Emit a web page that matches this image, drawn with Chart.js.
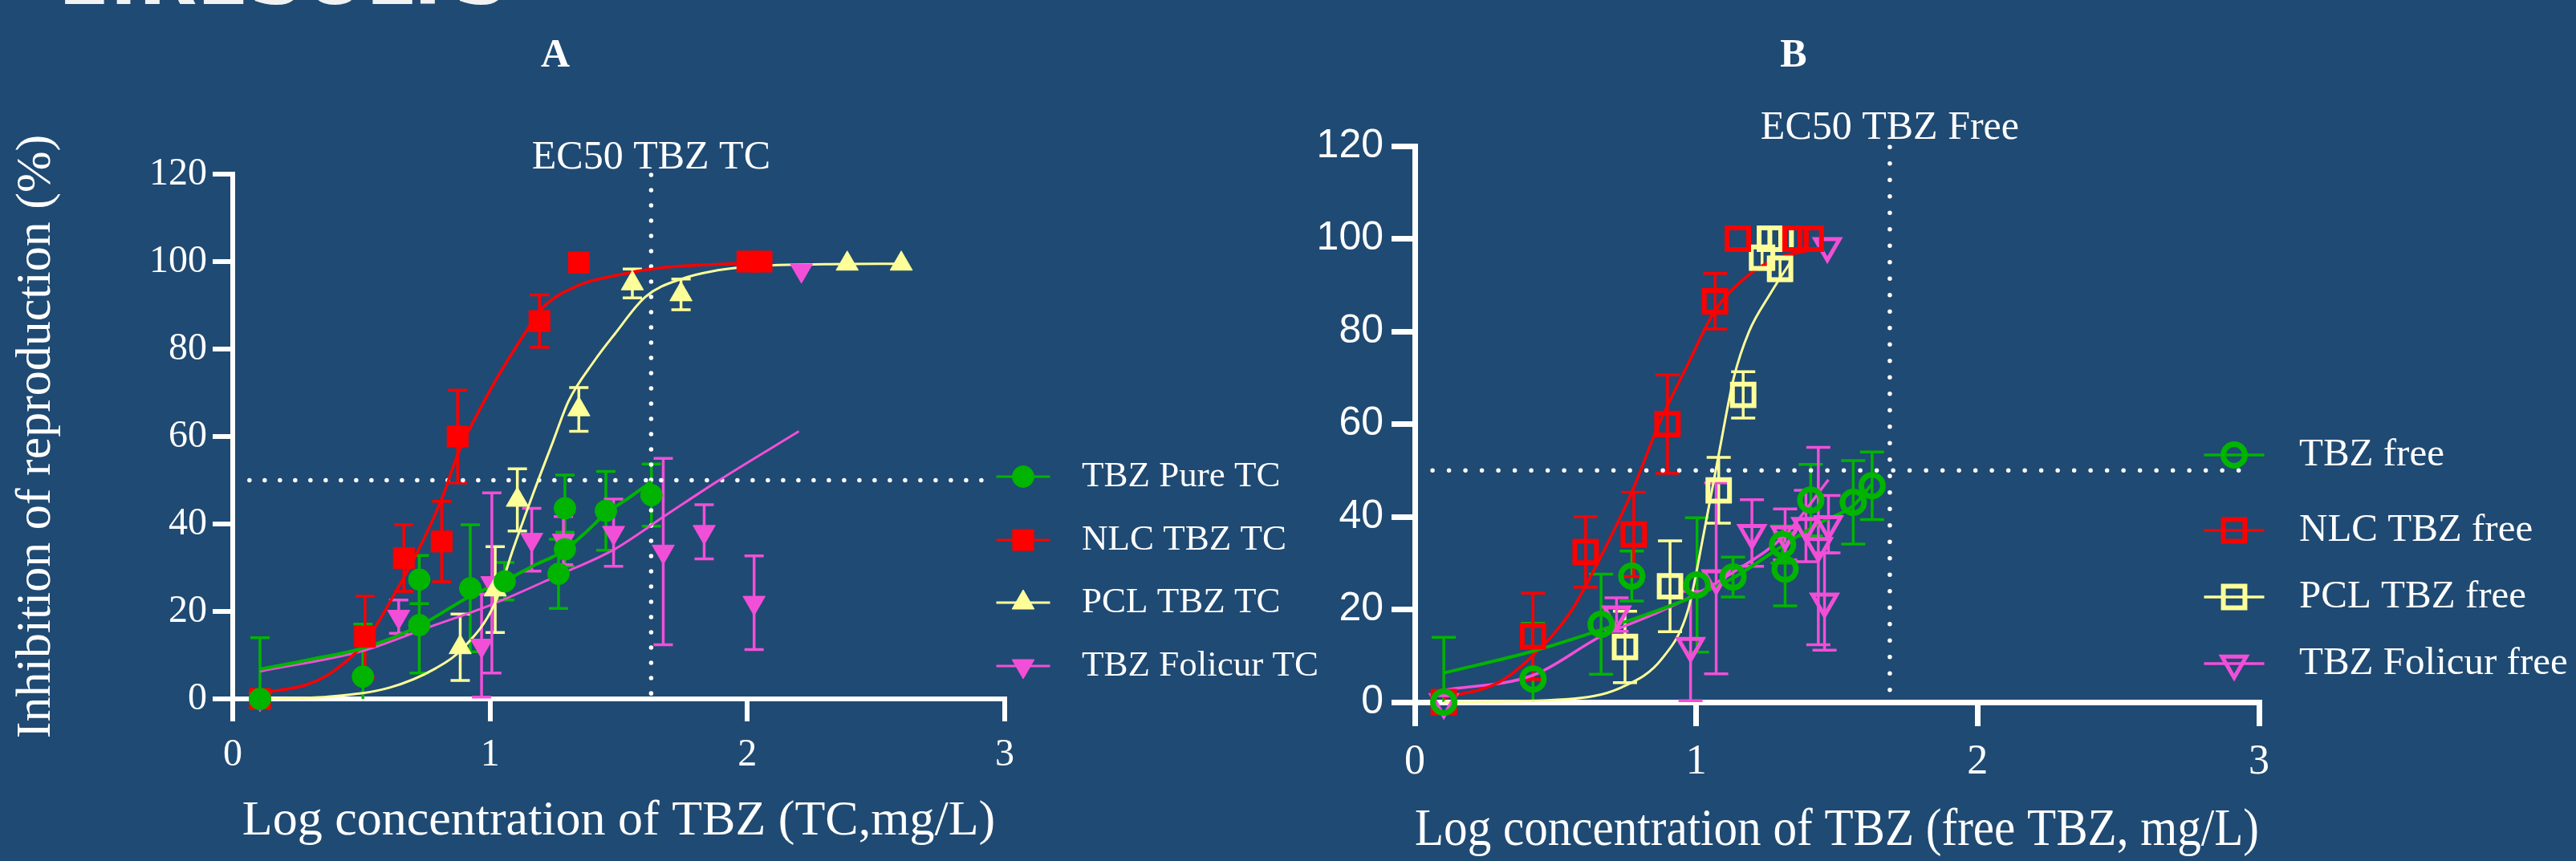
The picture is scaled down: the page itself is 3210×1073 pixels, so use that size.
<!DOCTYPE html>
<html><head><meta charset="utf-8">
<script src="https://cdn.jsdelivr.net/npm/chart.js@4.4.1/dist/chart.umd.min.js"></script>
<style>
html,body{margin:0;padding:0;background:#1f4a73;width:3210px;height:1073px;overflow:hidden;}
#wrap{position:relative;width:3210px;height:1073px;}
canvas{position:absolute;top:0;}
#cA{left:0;} #cB{left:1600px;}
.lbl{position:absolute;color:#fff;font-family:"Liberation Serif",serif;white-space:nowrap;line-height:1;}
#top{left:70px;top:-75px;font-family:"DejaVu Sans",sans-serif;font-weight:bold;font-size:95px;color:#f2f2f2;}
#tA,#tB{top:41px;font-size:50px;font-weight:bold;transform:translateX(-50%);}
#tA{left:692px;} #tB{left:2235px;}
</style></head><body>
<div id="wrap">
<div class="lbl" id="top">1.RESULTS</div>
<canvas id="cA" width="1700" height="1073"></canvas>
<canvas id="cB" width="1610" height="1073"></canvas>
<div class="lbl" id="tA">A</div>
<div class="lbl" id="tB">B</div>
</div>
<script>
// ---------- tick values ----------
const X_TICKS = [0, 1, 2, 3];
const Y_TICKS = [0, 20, 40, 60, 80, 100, 120];

// ---------- Panel A (TC) ----------
const A_PURE_X  = [0.106, 0.506, 0.725, 0.725, 0.923, 1.057, 1.266, 1.291, 1.291, 1.45, 1.627];
const A_PURE_Y  = [0, 5.1, 27.3, 16.9, 25.3, 26.9, 28.6, 34.2, 43.6, 43, 46.6];
const A_PURE_SD = [14, 12, 5.5, 11, 14.5, 4.3, 7.9, 3.9, 7.6, 9, 7.1];

const A_NLC_X  = [0.106, 0.514, 0.665, 0.812, 0.874, 1.192, 1.345, 2.0, 2.055];
const A_NLC_Y  = [0, 14.2, 32.2, 36, 60, 86.4, 99.8, 100, 100];
const A_NLC_SD = [0, 9.3, 7.6, 9.2, 10.6, 6, 0, 0, 0];

const A_PCL_X  = [0.884, 1.02, 1.106, 1.345, 1.553, 1.742, 2.388, 2.598];
const A_PCL_Y  = [11.8, 25, 45.5, 66.2, 95, 92.5, 99.5, 99.5];
const A_PCL_SD = [7.6, 9.8, 7.1, 5, 3.3, 3.5, 0, 0];

const A_FOL_X  = [0.106, 0.645, 0.967, 1.007, 1.162, 1.285, 1.48, 1.673, 1.832, 2.026, 2.21];
const A_FOL_Y  = [0, 18.8, 12.2, 26.5, 36.4, 36.2, 38, 33.7, 38.2, 22, 98];
const A_FOL_SD = [0, 3.8, 11.8, 20.6, 7.2, 5.5, 7.7, 21.3, 6.2, 10.7, 0];

// fitted curves, panel A
const A_PURE_FIT_X = [0.106, 0.3, 0.506, 0.725, 0.923, 1.057, 1.17, 1.285, 1.37, 1.45, 1.54, 1.627];
const A_PURE_FIT_Y = [6.8, 9, 11.6, 16.7, 23.5, 27, 30.5, 33.8, 38, 42.4, 46, 49.7];
const A_NLC_FIT_X = [0.106, 0.29, 0.391, 0.514, 0.629, 0.713, 0.812, 0.874, 1.006, 1.146, 1.205, 1.345, 1.484, 1.683, 1.96, 2.06];
const A_NLC_FIT_Y = [1.4, 3.3, 6.3, 13, 24, 33, 45.7, 55.8, 71.2, 84.6, 89.5, 94.6, 96.8, 98.7, 99.6, 100];
const A_PCL_FIT_X = [0.106, 0.371, 0.61, 0.789, 0.888, 1.02, 1.087, 1.166, 1.245, 1.305, 1.404, 1.484, 1.603, 1.742, 1.98, 2.3, 2.6];
const A_PCL_FIT_Y = [0, 0.5, 2.6, 7, 11.2, 22, 33.8, 46.7, 58.9, 68.1, 77.2, 83.4, 91.9, 96, 98.7, 99.4, 99.5];
const A_FOL_FIT_X = [0.106, 0.506, 0.748, 1.007, 1.266, 1.48, 1.683, 1.882, 2.2];
const A_FOL_FIT_Y = [6.3, 11, 16.1, 21.6, 28.3, 34.1, 42, 49.7, 61.2];

const A_EC50 = 1.626;

// ---------- Panel B (free TBZ) ----------
const B_PURE_X  = [0.103, 0.42, 0.662, 0.771, 1.003, 1.131, 1.316, 1.307, 1.407, 1.558, 1.625];
const B_PURE_Y  = [0, 5, 16.8, 27.2, 25.3, 27, 28.7, 34, 43.6, 43.1, 46.7];
const B_PURE_SD = [14, 12, 10.8, 5.4, 14.5, 4.3, 7.9, 4, 7.7, 9, 7.3];

const B_NLC_X  = [0.103, 0.42, 0.607, 0.778, 0.898, 1.067, 1.148, 1.353, 1.407];
const B_NLC_Y  = [0, 14.2, 32.4, 36.2, 60, 86.5, 100, 100, 100];
const B_NLC_SD = [0, 9.3, 7.6, 9.1, 10.6, 6, 0, 0, 0];

const B_PCL_X  = [0.747, 0.907, 1.08, 1.167, 1.234, 1.298, 1.262, 1.3];
const B_PCL_Y  = [11.9, 25, 45.7, 66.3, 95.9, 93.5, 100, 100];
const B_PCL_SD = [7.7, 9.8, 7.1, 5, 2.5, 2.5, 0, 0];

const B_FOL_X  = [0.103, 0.717, 0.98, 1.071, 1.198, 1.316, 1.39, 1.434, 1.47, 1.456, 1.466];
const B_FOL_Y  = [0, 18.9, 12.1, 26.7, 36.5, 36.2, 38, 33.7, 38.4, 21.7, 98.4];
const B_FOL_SD = [0, 3.6, 11.8, 20.6, 7.2, 5.5, 7.7, 21.3, 6.2, 10.5, 0];

const B_PURE_FIT_X = [0.103, 0.42, 0.662, 0.85, 1.003, 1.131, 1.316, 1.45, 1.558, 1.625];
const B_PURE_FIT_Y = [6.3, 11, 15.6, 19.5, 23.1, 26.8, 34.1, 39, 42.4, 47.1];
const B_NLC_FIT_X = [0.103, 0.299, 0.42, 0.553, 0.662, 0.771, 0.862, 0.971, 1.067, 1.171, 1.279, 1.386, 1.41];
const B_NLC_FIT_Y = [0.9, 4.3, 10.1, 19.4, 31.5, 45.3, 59.2, 73, 84.5, 91.4, 95.6, 97.3, 97.6];
const B_PCL_FIT_X = [0.103, 0.535, 0.735, 0.88, 0.971, 1.026, 1.08, 1.134, 1.188, 1.262, 1.334];
const B_PCL_FIT_Y = [0, 0.6, 3.2, 9.5, 19.9, 36.1, 53.4, 70.1, 80, 88, 94.9];
const B_FOL_FIT_X = [0.103, 0.42, 0.662, 0.85, 1.003, 1.131, 1.316, 1.47];
const B_FOL_FIT_Y = [2.6, 5.8, 14.2, 19, 23.4, 28, 36.1, 48];

const B_EC50 = 1.688;

const LABELS_A = ['TBZ Pure TC', 'NLC TBZ TC', 'PCL TBZ TC', 'TBZ Folicur TC'];
const LABELS_B = ['TBZ free', 'NLC TBZ free', 'PCL TBZ free', 'TBZ Folicur free'];

const COL = {green:'#00b400', red:'#ff0000', yellow:'#ffff99', pink:'#f24fd8'};
const SERIF = '"Liberation Serif", "Times New Roman", serif';

Chart.defaults.color = '#fff';
Chart.defaults.font.family = SERIF;

function pts(xs, ys){ return xs.map((x,i)=>({x:x, y:ys[i]})); }

function pointDS(label, xs, ys, sd, color, m){
  return {type:'scatter', label:label, data:pts(xs,ys), errors:sd, order:1, clip:false, showLine:false,
    pointStyle:m.style, pointRadius:m.r, pointHoverRadius:m.r, pointRotation:m.rot||0,
    pointBackgroundColor: m.open ? 'rgba(0,0,0,0)' : color, pointBorderColor:color, pointBorderWidth:m.bw,
    borderColor:color, backgroundColor:color, capWidth:m.cap, errWidth:m.ew, isSeries:true, mk:m};
}
function fitDS(xs, ys, color, w){
  return {type:'scatter', label:'', data:pts(xs,ys), showLine:true, pointRadius:0, pointHoverRadius:0,
    borderColor:color, borderWidth:w, cubicInterpolationMode:'monotone', order:2, clip:false, isFit:true};
}

function markerPath(ctx, style, r, rot, x, y){
  ctx.beginPath();
  if (style === 'circle') { ctx.arc(x, y, r, 0, Math.PI*2); }
  else if (style === 'rect') { const s = r*Math.SQRT1_2; ctx.rect(x-s, y-s, 2*s, 2*s); }
  else {
    let a = rot*Math.PI/180;
    ctx.moveTo(x + Math.sin(a)*r, y - Math.cos(a)*r);
    a += 2*Math.PI/3; ctx.lineTo(x + Math.sin(a)*r, y - Math.cos(a)*r);
    a += 2*Math.PI/3; ctx.lineTo(x + Math.sin(a)*r, y - Math.cos(a)*r);
    ctx.closePath();
  }
}

const errorBarPlugin = {
  id:'errbars',
  beforeDatasetsDraw(chart){
    const ctx = chart.ctx, xS = chart.scales.x, yS = chart.scales.y;
    chart.data.datasets.forEach(ds => {
      if (!ds.errors) return;
      ctx.save();
      ctx.strokeStyle = ds.borderColor; ctx.lineWidth = ds.errWidth; ctx.lineCap = 'butt';
      ds.data.forEach((p, j) => {
        const e = ds.errors[j]; if (!e) return;
        const px = xS.getPixelForValue(p.x);
        const hi = yS.getPixelForValue(p.y + e);
        const loV = p.y - e, lo = yS.getPixelForValue(Math.max(0, loV));
        const c = ds.capWidth/2;
        ctx.beginPath(); ctx.moveTo(px, hi); ctx.lineTo(px, lo);
        ctx.moveTo(px-c, hi); ctx.lineTo(px+c, hi);
        if (loV >= 0) { ctx.moveTo(px-c, lo); ctx.lineTo(px+c, lo); }
        ctx.stroke();
      });
      ctx.restore();
    });
  }
};

const refPlugin = {
  id:'reflines',
  beforeDatasetsDraw(chart, args, o){
    const ctx = chart.ctx, xS = chart.scales.x, yS = chart.scales.y;
    ctx.save();
    ctx.strokeStyle = '#fff'; ctx.lineWidth = o.dot; ctx.lineCap = 'round'; ctx.setLineDash([0.001, o.gap]);
    const vx = xS.getPixelForValue(o.ec50);
    ctx.beginPath(); ctx.moveTo(vx, yS.getPixelForValue(o.vTop)); ctx.lineTo(vx, yS.getPixelForValue(o.vBottom)); ctx.stroke();
    const hy = yS.getPixelForValue(o.level);
    ctx.beginPath(); ctx.moveTo(xS.getPixelForValue(o.hStart), hy); ctx.lineTo(xS.getPixelForValue(o.hEnd), hy); ctx.stroke();
    ctx.setLineDash([]);
    ctx.fillStyle = '#fff'; ctx.font = o.font; ctx.textAlign = 'center'; ctx.textBaseline = 'alphabetic';
    ctx.fillText(o.label, vx, chart.chartArea.top - o.labelGap);
    ctx.restore();
  }
};

const legendPlugin = {
  id:'seriesLegend',
  afterDraw(chart, args, o){
    const ctx = chart.ctx;
    const items = chart.data.datasets.filter(d => d.isSeries);
    items.forEach((ds, i) => {
      const yy = o.rows[i];
      ctx.save();
      ctx.strokeStyle = ds.borderColor; ctx.lineWidth = o.lineWidth;
      ctx.beginPath(); ctx.moveTo(o.x - o.half, yy); ctx.lineTo(o.x + o.half, yy); ctx.stroke();
      const m = ds.mk;
      markerPath(ctx, m.style, m.r, m.rot||0, o.x, yy);
      if (!m.open) { ctx.fillStyle = ds.borderColor; ctx.fill(); }
      if (m.bw) { ctx.lineWidth = m.bw; ctx.strokeStyle = ds.borderColor; ctx.stroke(); }
      ctx.fillStyle = '#fff'; ctx.font = o.font; ctx.textAlign = 'left'; ctx.textBaseline = 'middle';
      ctx.fillText(ds.label, o.textX, yy);
      ctx.restore();
    });
  }
};

function axisX(opts){
  return {type:'linear', min:0, max:3,
    afterBuildTicks: s => { s.ticks = X_TICKS.map(v => ({value:v})); },
    afterFit: s => { s.height = opts.h; },
    grid:{drawOnChartArea:false, drawTicks:true, tickLength:opts.tl, tickWidth:opts.lw, tickColor:'#fff', color:'#fff', lineWidth:opts.lw},
    border:{display:true, color:'#fff', width:opts.lw},
    ticks:{color:'#fff', padding:opts.tp, maxRotation:0, autoSkip:false, font:{family:SERIF, size:opts.fs}},
    title:{display:true, text:opts.title, color:'#fff', font:{family:SERIF, size:opts.ts, lineHeight:opts.tlh}, padding:{top:0, bottom:opts.tpb}}
  };
}
function axisY(opts){
  const a = {type:'linear', min:0, max:120,
    afterBuildTicks: s => { s.ticks = Y_TICKS.map(v => ({value:v})); },
    afterFit: s => { s.width = opts.w; },
    grid:{drawOnChartArea:false, drawTicks:true, tickLength:opts.tl, tickWidth:opts.lw, tickColor:'#fff', color:'#fff', lineWidth:opts.lw},
    border:{display:true, color:'#fff', width:opts.lw},
    ticks:{color:'#fff', padding:opts.tp, font:{family:opts.ff, size:opts.fs}},
    title:{display:!!opts.title, text:opts.title||'', color:'#fff', font:{family:SERIF, size:62}, padding:{top:9, bottom:0}}
  };
  return a;
}

// ---------- Chart A ----------
const mA = {
  circ:{style:'circle', r:13.5, bw:1, cap:24, ew:3.5},
  sq:{style:'rect', r:18.5, bw:1, cap:24, ew:3.5},
  tri:{style:'triangle', r:16, bw:1, cap:24, ew:3.5},
  dtri:{style:'triangle', r:16, rot:180, bw:1, cap:24, ew:3.5}
};
new Chart(document.getElementById('cA'), {
  type:'scatter',
  data:{datasets:[
    pointDS(LABELS_A[0], A_PURE_X, A_PURE_Y, A_PURE_SD, COL.green, mA.circ),
    pointDS(LABELS_A[1], A_NLC_X, A_NLC_Y, A_NLC_SD, COL.red, mA.sq),
    pointDS(LABELS_A[2], A_PCL_X, A_PCL_Y, A_PCL_SD, COL.yellow, mA.tri),
    pointDS(LABELS_A[3], A_FOL_X, A_FOL_Y, A_FOL_SD, COL.pink, mA.dtri),
    fitDS(A_PURE_FIT_X, A_PURE_FIT_Y, COL.green, 4),
    fitDS(A_NLC_FIT_X, A_NLC_FIT_Y, COL.red, 3.5),
    fitDS(A_PCL_FIT_X, A_PCL_FIT_Y, COL.yellow, 3),
    fitDS(A_FOL_FIT_X, A_FOL_FIT_Y, COL.pink, 3)
  ]},
  options:{
    responsive:false, animation:false, devicePixelRatio:1, events:[],
    layout:{padding:{top:217, right:448, left:0, bottom:0}},
    scales:{
      x: axisX({h:202, tl:28, lw:6, tp:14, fs:48, title:'Log concentration of TBZ (TC,mg/L)', ts:62, tlh:1.2, tpb:12}),
      y: axisY({w:290, tl:25, lw:6, tp:7, fs:48, ff:SERIF, title:'Inhibition of reproduction (%)'})
    },
    plugins:{
      legend:{display:false}, tooltip:{enabled:false},
      reflines:{ec50:A_EC50, level:50, vTop:119.8, vBottom:1.1, hStart:0.065, hEnd:2.94, dot:5.5, gap:19,
        label:'EC50 TBZ TC', font:'50px '+SERIF, labelGap:7},
      seriesLegend:{x:1275, half:33.5, rows:[594, 673, 751, 830], textX:1348, lineWidth:3, font:'45px '+SERIF}
    }
  },
  plugins:[errorBarPlugin, refPlugin, legendPlugin]
});

// ---------- Chart B ----------
const mB = {
  circ:{style:'circle', r:13.5, bw:7, open:true, cap:30, ew:3.5},
  sq:{style:'rect', r:19, bw:6, open:true, cap:30, ew:3.5},
  dtri:{style:'triangle', r:17.5, rot:180, bw:5, open:true, cap:30, ew:3.5}
};
new Chart(document.getElementById('cB'), {
  type:'scatter',
  data:{datasets:[
    pointDS(LABELS_B[0], B_PURE_X, B_PURE_Y, B_PURE_SD, COL.green, mB.circ),
    pointDS(LABELS_B[1], B_NLC_X, B_NLC_Y, B_NLC_SD, COL.red, mB.sq),
    pointDS(LABELS_B[2], B_PCL_X, B_PCL_Y, B_PCL_SD, COL.yellow, mB.sq),
    pointDS(LABELS_B[3], B_FOL_X, B_FOL_Y, B_FOL_SD, COL.pink, mB.dtri),
    fitDS(B_PURE_FIT_X, B_PURE_FIT_Y, COL.green, 4),
    fitDS(B_NLC_FIT_X, B_NLC_FIT_Y, COL.red, 3.5),
    fitDS(B_PCL_FIT_X, B_PCL_FIT_Y, COL.yellow, 3),
    fitDS(B_FOL_FIT_X, B_FOL_FIT_Y, COL.pink, 3.5)
  ]},
  options:{
    responsive:false, animation:false, devicePixelRatio:1, events:[],
    layout:{padding:{top:182, right:395, left:0, bottom:0}},
    scales:{
      x: axisX({h:198, tl:30, lw:7, tp:14, fs:52, title:'Log concentration of TBZ (free TBZ, mg/L)', ts:66, tlh:1.1, tpb:1}),
      y: axisY({w:163, tl:29, lw:7, tp:10, fs:50, ff:'"Liberation Sans", Arial, sans-serif'})
    },
    plugins:{
      legend:{display:false}, tooltip:{enabled:false},
      reflines:{ec50:B_EC50, level:50, vTop:119.8, vBottom:1.2, hStart:0.063, hEnd:2.94, dot:5.5, gap:20.5,
        label:'EC50 TBZ Free', font:'50px '+SERIF, labelGap:9},
      seriesLegend:{x:1184, half:37.5, rows:[567, 661, 744, 827], textX:1265, lineWidth:3.5, font:'49px '+SERIF}
    }
  },
  plugins:[errorBarPlugin, refPlugin, legendPlugin]
});
</script>
</body></html>
